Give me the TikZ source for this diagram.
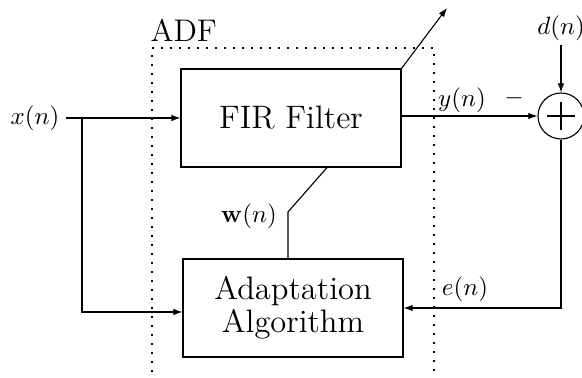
\documentclass[tikz,border=0pt]{standalone}
\usetikzlibrary{arrows.meta}
\begin{document}
\begin{tikzpicture}[x=0.4pt,y=-0.4pt,
  line width=0.45pt,
  arr/.style={-{Latex[length=3.6pt,width=2.6pt]}},
  blockbox/.style={draw,rectangle,minimum width=88pt,minimum height=39.2pt,inner sep=0pt,font=\fontsize{13}{13.3}\selectfont,align=center},
  sumnode/.style={draw,circle,minimum size=18.4pt,inner sep=0pt},
  lbl/.style={font=\fontsize{10}{12}\selectfont,inner sep=1.5pt},
  adfline/.style={dash pattern=on 0.8pt off 2.8pt}]
\useasboundingbox (0,0) rectangle (582,378);
\clip (0,0) rectangle (582,378);
% blocks
\node[blockbox] (fir) at (291,118) {FIR Filter};
\node[blockbox] (adapt) at (293,308) {Adaptation\\Algorithm};
\node[sumnode] (sum) at (561,116) {};
\draw (sum.center) ++(-5.6pt,0) -- ++(11.2pt,0);
\draw (sum.center) ++(0,-5.6pt) -- ++(0,11.2pt);
% labels
\node[lbl] (xl) at (35,118) {$x(n)$};
\node[lbl] (dl) at (561,28) {$d(n)$};
\node[lbl] (yl) at (462,100) {$y(n)$};
\node[lbl] (ml) at (514,98) {$-$};
\node[lbl] (el) at (465,289) {$e(n)$};
\node[lbl] (wl) at (249,216) {$\mathbf{w}(n)$};
\node[font=\fontsize{12.5}{14}\selectfont,anchor=base west,inner sep=0pt] (adf) at (150,42) {ADF};
% ADF boundary
\draw[adfline] (152,372) -- (152,48) -- (434,48) -- (434,372);
% coordinates
\coordinate (br) at (82,118);
\coordinate (out) at (447,8);
\coordinate (wk) at (288,212);
% connectors
\draw[arr] ([xshift=1pt]xl.east) -- (fir.west);
\draw[arr] (br) |- ([yshift=-1.6pt]adapt.west);
\draw[arr] (fir.east |- sum.west) -- (sum.west);
\draw[arr] (dl.south) -- (sum.north);
\draw[arr] (sum.south) |- (adapt.east);
\draw[arr] (fir.north east) -- (out);
\draw ([xshift=14.4pt]fir.south) -- (wk) -- (wk |- adapt.north);
\end{tikzpicture}
\end{document}
